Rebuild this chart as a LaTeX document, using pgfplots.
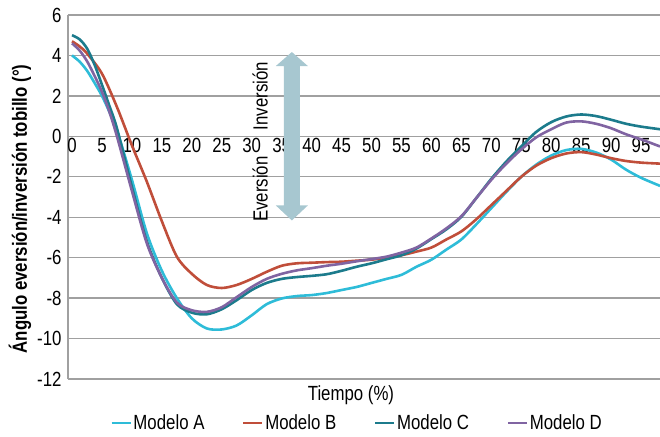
\documentclass[border=0pt]{standalone}
\usepackage{pgfplots}
\pgfplotsset{compat=1.18}
\usepackage{fontspec}
\setmainfont{Liberation Sans}[FakeStretch=0.82]
\definecolor{cA}{RGB}{46,188,216}
\definecolor{cB}{RGB}{192,78,58}
\definecolor{cC}{RGB}{28,123,140}
\definecolor{cD}{RGB}{128,100,162}
\definecolor{gridgray}{RGB}{160,160,160}
\definecolor{arrowcol}{RGB}{167,199,208}
\newcommand{\ff}{\fontsize{20.5bp}{24bp}\selectfont}
\begin{document}
\begin{tikzpicture}
\useasboundingbox (-68bp,-58bp) rectangle (592bp,379bp);
\begin{axis}[
  at={(0,0)}, anchor=south west,
  scale only axis, width=592bp, height=364bp,
  xmin=-0.67, xmax=98.16, ymin=-12, ymax=6,
  xtick={0,5,...,95}, ytick={-12,-10,...,6},
  axis x line*=bottom, axis y line*=left,
  x axis line style={draw=none},
  y axis line style={draw=gridgray, line width=1.3bp},
  ymajorgrids, major grid style={draw=gridgray, line width=1.3bp},
  major tick length=0pt,
  /pgf/number format/assume math mode=true,
  tick label style={font=\ff},
  xticklabel style={anchor=north, yshift=242.67bp, inner sep=2bp},
  yticklabel style={anchor=east, xshift=-3bp},
  clip=false,
  legend columns=4,
  legend style={draw=none, fill=none, at={(axis description cs:0.0709,-0.1209)}, anchor=west,
    inner sep=0pt, font=\ff, nodes={inner sep=1.5bp},
    /tikz/every even column/.style={column sep=36bp}},
  legend cell align=left,
  legend image code/.code={\draw[#1, line width=2.8bp] (0bp,0bp) -- (19bp,0bp);},
]
% arrow
\fill[arrowcol] (axis cs:36.7,4.17) -- ([xshift=16bp,yshift=-14bp]axis cs:36.7,4.17) -- ([xshift=8bp,yshift=-14bp]axis cs:36.7,4.17)
  -- ([xshift=8bp,yshift=15bp]axis cs:36.7,-4.16) -- ([xshift=16bp,yshift=15bp]axis cs:36.7,-4.16) -- (axis cs:36.7,-4.16)
  -- ([xshift=-16bp,yshift=15bp]axis cs:36.7,-4.16) -- ([xshift=-8bp,yshift=15bp]axis cs:36.7,-4.16)
  -- ([xshift=-8bp,yshift=-14bp]axis cs:36.7,4.17) -- ([xshift=-16bp,yshift=-14bp]axis cs:36.7,4.17) -- cycle;
\node[rotate=90, anchor=west, inner sep=0pt, font=\ff] at (axis cs:31.4,0.3) {Inversión};
\node[rotate=90, anchor=west, inner sep=0pt, font=\ff] at (axis cs:31.4,-4.24) {Eversión};

\addplot[cA, line width=2.6bp, smooth] coordinates {
(0,4.0) (1.25,3.7) (2.5,3.25) (3.75,2.65) (5,2.0) (6.25,1.2) (7.5,0.3) (10,-2.15) (12.5,-4.8) (15,-6.65) (17.5,-8.0) (20,-9.0)
(22.5,-9.5) (25,-9.55) (27.5,-9.35) (30,-8.85) (32.5,-8.3) (35,-8.02) (37.5,-7.9) (40,-7.85)
(42.5,-7.75) (45,-7.6) (47.5,-7.45) (50,-7.25) (52.5,-7.05) (55,-6.85) (57.5,-6.45) (60,-6.1)
(62.5,-5.6) (65,-5.1) (67.5,-4.35) (70,-3.55) (72.5,-2.75) (75,-2.0) (77.5,-1.4) (80,-0.95)
(82.5,-0.68) (85,-0.62) (87.5,-0.8) (90,-1.15) (92.5,-1.65) (95,-2.05) (98.16,-2.45)};
\addlegendentry{Modelo A}
\addplot[cB, line width=2.6bp, smooth] coordinates {
(0,4.7) (1.25,4.45) (2.5,4.1) (5,3.1) (7.5,1.45) (10,-0.45) (12.5,-2.25) (15,-4.2) (17.5,-5.95) (20,-6.8)
(22.5,-7.35) (25,-7.5) (27.5,-7.35) (30,-7.05) (32.5,-6.7) (35,-6.4) (37.5,-6.28) (40,-6.25)
(42.5,-6.22) (45,-6.2) (47.5,-6.15) (50,-6.1) (52.5,-6.0) (55,-5.88) (57.5,-5.7) (60,-5.5)
(62.5,-5.1) (65,-4.7) (67.5,-4.1) (70,-3.4) (72.5,-2.7) (75,-2.0) (77.5,-1.45) (80,-1.08)
(82.5,-0.85) (85,-0.78) (87.5,-0.9) (90,-1.08) (92.5,-1.22) (95,-1.3) (98.16,-1.35)};
\addlegendentry{Modelo B}
\addplot[cC, line width=2.6bp, smooth] coordinates {
(0,5.0) (1.25,4.8) (2.5,4.35) (3.75,3.55) (5,2.55) (6.25,1.5) (7.5,0.4) (10,-2.5) (12.5,-5.2) (15,-7.0) (17.5,-8.3) (20,-8.72)
(22.5,-8.8) (25,-8.55) (27.5,-8.1) (30,-7.6) (32.5,-7.25) (35,-7.05) (37.5,-6.96) (40,-6.9)
(42.5,-6.82) (45,-6.65) (47.5,-6.45) (50,-6.28) (52.5,-6.08) (55,-5.88) (57.5,-5.55) (60,-5.08)
(62.5,-4.6) (65,-3.98) (67.5,-3.05) (70,-2.1) (72.5,-1.25) (75,-0.5) (77.5,0.22) (80,0.7)
(82.5,0.98) (85,1.08) (87.5,1.0) (90,0.82) (92.5,0.62) (95,0.48) (98.16,0.35)};
\addlegendentry{Modelo C}
\addplot[cD, line width=2.6bp, smooth] coordinates {
(0,4.6) (1.25,4.25) (2.5,3.72) (3.75,3.0) (5,2.2) (6.25,1.2) (7.5,0.0) (10,-2.7) (12.5,-5.3) (15,-7.0) (17.5,-8.22) (20,-8.6)
(22.5,-8.68) (25,-8.45) (27.5,-7.95) (30,-7.45) (32.5,-7.05) (35,-6.8) (37.5,-6.63) (40,-6.52)
(42.5,-6.4) (45,-6.3) (47.5,-6.18) (50,-6.07) (52.5,-5.95) (55,-5.75) (57.5,-5.5) (60,-5.05)
(62.5,-4.55) (65,-3.95) (67.5,-3.05) (70,-2.15) (72.5,-1.35) (75,-0.65) (77.5,-0.05) (80,0.35)
(82.5,0.68) (85,0.74) (87.5,0.62) (90,0.4) (92.5,0.1) (95,-0.15) (98.16,-0.5)};
\addlegendentry{Modelo D}

\node[rotate=90, font=\ff\bfseries] at (axis description cs:-0.0811,0.467) {Ángulo eversión/inversión tobillo (°)};
\node[font=\ff] at (axis description cs:0.4780,-0.044) {Tiempo (\%)};
\end{axis}
\end{tikzpicture}
\end{document}
